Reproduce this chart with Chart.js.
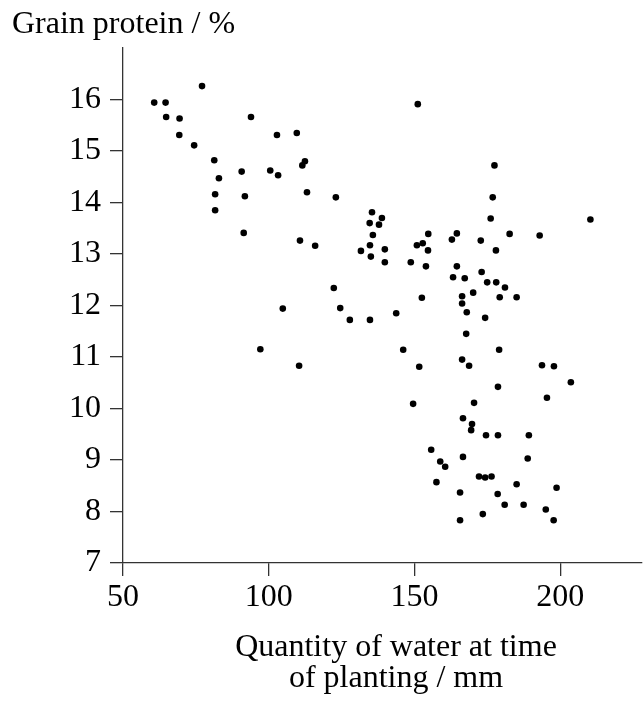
<!DOCTYPE html>
<html>
<head>
<meta charset="utf-8">
<script src="https://cdn.jsdelivr.net/npm/chart.js@4"></script>
<style>
  html, body { margin: 0; padding: 0; background: #fff; }
  canvas { display: block; }
</style>
</head>
<body>
<canvas id="scatter" width="643" height="702"></canvas>
<script>
// values, one entry per dot
var waterMm = [
    77.1, 60.7, 64.6, 64.8, 69.4, 93.9, 69.3, 102.8, 109.6, 74.4,
    81.3, 90.7, 100.5, 103.2, 82.9, 81.6, 91.8, 81.6, 91.4, 112.4,
    111.5, 113.1, 123.0, 135.4, 138.8, 134.6, 137.8, 135.7, 110.7, 115.9,
    131.6, 134.7, 139.8, 135.0, 139.8, 122.3, 124.5, 127.8, 134.7, 143.7,
    104.8, 97.1, 110.4, 151.1, 177.4, 176.8, 176.1, 210.3, 154.7, 164.5,
    182.6, 192.9, 150.8, 152.8, 162.8, 172.7, 154.6, 177.9, 148.7, 153.9,
    164.5, 163.2, 167.2, 173.0, 174.9, 178.0, 181.0, 170.1, 152.5, 166.3,
    179.2, 185.0, 166.3, 167.9, 174.2, 167.7, 146.1, 179.0, 151.6, 166.3,
    168.7, 193.7, 197.8, 203.6, 178.6, 195.4, 149.5, 170.4, 166.6, 169.7,
    169.4, 174.5, 178.6, 189.2, 155.7, 166.6, 188.8, 158.8, 160.5, 172.1,
    174.2, 176.4, 157.5, 185.0, 198.7, 165.6, 178.5, 180.9, 187.4, 195.0,
    173.4, 165.6, 197.7
];
var proteinPct = [
    16.26, 15.94, 15.94, 15.66, 15.63, 15.66, 15.31, 15.31, 15.35, 15.11,
    14.82, 14.60, 14.62, 14.53, 14.47, 14.16, 14.12, 13.85, 13.41, 14.80,
    14.72, 14.20, 14.10, 13.81, 13.70, 13.60, 13.57, 13.37, 13.26, 13.16,
    13.06, 13.17, 13.09, 12.95, 12.84, 12.34, 11.95, 11.72, 11.72, 11.85,
    11.94, 11.15, 10.83, 15.91, 14.72, 14.10, 13.69, 13.67, 13.39, 13.40,
    13.39, 13.36, 13.17, 13.21, 13.28, 13.26, 13.07, 13.07, 12.84, 12.76,
    12.76, 12.55, 12.53, 12.65, 12.45, 12.45, 12.35, 12.25, 12.15, 12.18,
    12.16, 12.16, 12.04, 11.87, 11.76, 11.45, 11.14, 11.14, 10.81, 10.95,
    10.83, 10.84, 10.82, 10.51, 10.42, 10.21, 10.09, 10.11, 9.81, 9.70,
    9.58, 9.48, 9.48, 9.48, 9.20, 9.06, 9.03, 8.97, 8.87, 8.68,
    8.66, 8.68, 8.57, 8.53, 8.46, 8.37, 8.34, 8.13, 8.13, 8.04,
    7.95, 7.83, 7.83
];
var xTicks = [50, 100, 150, 200];
var yTicks = [7, 8, 9, 10, 11, 12, 13, 14, 15, 16];
var yTitle = "Grain protein / %";
var xTitle = ["Quantity of water at time", "of planting / mm"];

var serif = "'Liberation Serif', 'Times New Roman', serif";
var axisColor = '#333';

// axis titles sit where the reference puts them, not where Chart.js would
var titlePlugin = {
    id: 'titles',
    afterDraw: function (chart) {
        var ctx = chart.ctx;
        ctx.save();
        ctx.font = "32px " + serif;
        ctx.fillStyle = '#000';
        ctx.textBaseline = 'alphabetic';
        ctx.textAlign = 'left';
        ctx.fillText(yTitle, 12, 33);
        ctx.textAlign = 'center';
        for (var i = 0; i < xTitle.length; i++) {
            ctx.fillText(xTitle[i], 396, 656 + i * 31);
        }
        ctx.restore();
    }
};

var points = waterMm.map(function (w, i) {
    return { x: w, y: proteinPct[i] };
});

var chrt = document.getElementById("scatter").getContext("2d");
var chartId = new Chart(chrt, {
    type: 'scatter',
    data: {
        datasets: [{
            label: "Grain protein",
            data: points,
            pointRadius: 3.3,
            pointBackgroundColor: '#000',
            pointBorderWidth: 0
        }]
    },
    options: {
        responsive: false,
        animation: false,
        layout: {
            autoPadding: false,
            padding: { top: 48, right: 1, left: 0, bottom: 0 }
        },
        scales: {
            x: {
                type: 'linear',
                min: 50,
                max: 228,
                afterBuildTicks: function (axis) {
                    axis.ticks = xTicks.map(function (v) { return { value: v }; });
                },
                afterFit: function (axis) { axis.height = 139; },
                border: { color: axisColor, width: 1.3 },
                grid: { drawOnChartArea: false, drawTicks: true, tickLength: 13, color: axisColor, lineWidth: 1.3 },
                ticks: { color: '#000', padding: 2, maxRotation: 0, font: { family: serif, size: 32 } }
            },
            y: {
                type: 'linear',
                min: 7,
                max: 17,
                afterBuildTicks: function (axis) {
                    axis.ticks = yTicks.map(function (v) { return { value: v }; });
                },
                afterFit: function (axis) { axis.width = 123; },
                border: { color: axisColor, width: 1.3 },
                grid: { drawOnChartArea: false, drawTicks: true, tickLength: 13, color: axisColor, lineWidth: 1.3 },
                ticks: { color: '#000', padding: 9, font: { family: serif, size: 32 } }
            }
        },
        plugins: {
            legend: { display: false },
            tooltip: { enabled: false }
        }
    },
    plugins: [titlePlugin]
});
</script>
</body>
</html>
